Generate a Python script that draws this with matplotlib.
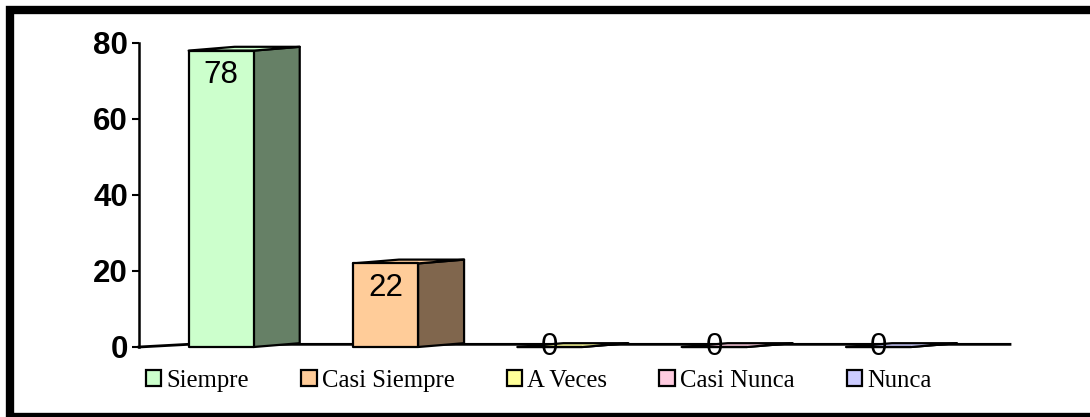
import matplotlib
matplotlib.use("Agg")
import matplotlib.pyplot as plt
from matplotlib.patches import Rectangle, Polygon, Patch
from matplotlib.lines import Line2D

# Survey responses (percent)
categories = ["Siempre", "Casi Siempre", "A Veces", "Casi Nunca", "Nunca"]
values = [78, 22, 0, 0, 0]
front_colors = ["#CCFFCC", "#FFCC99", "#FFFF99", "#FFCCE0", "#CCCCFF"]
side_colors = ["#668066", "#80664D", "#808066", "#806670", "#666680"]
y_ticks = [0, 20, 40, 60, 80]

W, H = 1090, 417
fig = plt.figure(figsize=(W / 100, H / 100), dpi=100)

# plot area in pixel terms
ax_left, ax_right = 139, 1010
ax_top, ax_bottom = 43, 347
ax = fig.add_axes([ax_left / W, 1 - ax_bottom / H,
                   (ax_right - ax_left) / W, (ax_bottom - ax_top) / H])
ax.set_xlim(-0.5, 4.8)
ax.set_ylim(0, 80)

# 3D look: half width of the front face, depth offsets of the side face
half_w = 0.198
depth_x = 0.28
depth_y = 1.0
edge_lw = 1.6

for i, (v, fc, sc) in enumerate(zip(values, front_colors, side_colors)):
    x0, x1 = i - half_w, i + half_w
    side = Polygon([(x1, 0), (x1 + depth_x, depth_y), (x1 + depth_x, v + depth_y), (x1, v)],
                   closed=True, facecolor=sc, edgecolor="black", lw=edge_lw,
                   joinstyle="round", clip_on=False, zorder=3)
    top = Polygon([(x0, v), (x1, v), (x1 + depth_x, v + depth_y), (x0 + depth_x, v + depth_y)],
                  closed=True, facecolor=fc, edgecolor="black", lw=edge_lw,
                  joinstyle="round", clip_on=False, zorder=3)
    front = Rectangle((x0, 0), x1 - x0, v, facecolor=fc, edgecolor="black", lw=edge_lw,
                      joinstyle="round", clip_on=False, zorder=4)
    ax.add_patch(side)
    ax.add_patch(top)
    ax.add_patch(front)
    label_y = v - 6.5 if v > 0 else v
    ax.text(i, label_y, str(v), ha="center", va="center", fontsize=22.5,
            family="Liberation Sans", color="black", zorder=6)

# floor edge
ax.add_line(Line2D([-0.5, -0.2, 4.8], [0, 0.7, 0.7], color="black", lw=2.0,
                   clip_on=False, zorder=2))

for s in ["top", "right", "bottom"]:
    ax.spines[s].set_visible(False)
ax.spines["left"].set_linewidth(1.8)
ax.spines["left"].set_bounds(0, 80)
ax.set_xticks([])
ax.set_yticks(y_ticks)
ax.tick_params(axis="y", direction="out", length=5, width=1.5, pad=3,
               labelsize=22.5)
for lbl in ax.get_yticklabels():
    lbl.set_family("Liberation Sans")
    lbl.set_fontweight("bold")
ax.patch.set_alpha(0)

# legend along the bottom
handles = [Patch(facecolor=c, edgecolor="black", lw=1.6) for c in front_colors]
fig.legend(handles, categories, ncol=5, loc="center left",
           bbox_to_anchor=(146 / W, 1 - 381 / H), frameon=False,
           borderpad=0, borderaxespad=0, handlelength=0.62, handleheight=0.62,
           handletextpad=0.22, columnspacing=2.1,
           prop={"family": "Liberation Serif", "size": 17.8})

# outer frame
fig.add_artist(Rectangle((10 / W, 0), 1.2, 1 - 10 / H, transform=fig.transFigure,
                         facecolor="none", edgecolor="black", lw=6, clip_on=False))

fig.savefig("out.png", dpi=100)
